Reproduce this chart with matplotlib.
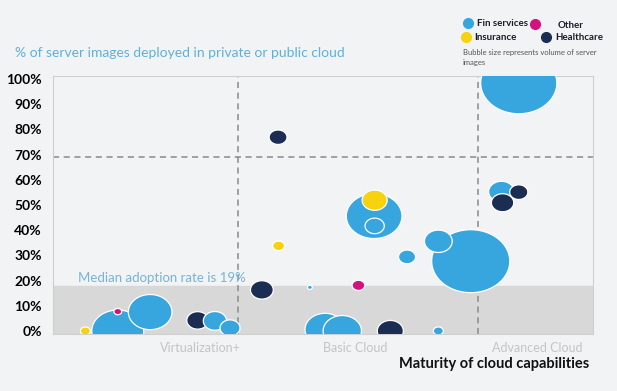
import numpy as np
import matplotlib
matplotlib.use("Agg")
import matplotlib.pyplot as plt
from matplotlib.path import Path

plt.rcParams['font.family'] = ['Lato', 'DejaVu Sans']

# bubbles, listed back to front
sector = ['Fin', 'Fin', 'Fin', 'Fin', 'Fin', 'Fin', 'Insurance', 'Fin',
          'Healthcare', 'Healthcare', 'Healthcare', 'Insurance',
          'Fin', 'Fin', 'Other', 'Insurance', 'Healthcare', 'Fin', 'Fin',
          'Healthcare', 'Fin', 'Other', 'Fin', 'Fin', 'Healthcare', 'Fin']
maturity = [77.4, 71.4, 65.6, 86.3, 59.5, 59.6, 59.6, 83.1,
            86.3, 83.3, 41.7, 41.8,
            12.0, 18.0, 12.0, 6.0, 26.8, 30.0, 32.8,
            38.7, 47.6, 56.6, 50.4, 53.6, 62.5, 71.4]
adoption = [27.7, 35.6, 29.4, 98.4, 45.6, 41.7, 51.9, 55.3,
            55.1, 50.9, 76.9, 33.8,
            0.0, 7.5, 7.7, 0.0, 4.2, 4.0, 1.2,
            16.3, 17.3, 18.1, 0.6, 0.0, 0.0, 0.0]
volume = [61, 7.7, 2.9, 58, 31, 3.7, 6.3, 6.6,
          3.3, 5.0, 3.2, 1.4,
          27, 19, 0.6, 1.0, 4.7, 5.4, 4.0,
          5.2, 0.25, 1.6, 16, 14.7, 6.8, 1.0]

median_rate = 18
cloud_threshold = 69
stage_edges = [34.3, 78.8]
stage_ticks = [27.3, 56.0, 89.7]
stage_labels = ['Virtualization+', 'Basic Cloud', 'Advanced Cloud']

colors = {'Fin': '#38a6de', 'Insurance': '#f6d20f',
          'Other': '#d4127f', 'Healthcare': '#1b2d52'}
legend_names = {'Fin': 'Fin services', 'Insurance': 'Insurance',
                'Other': 'Other', 'Healthcare': 'Healthcare'}

bg = '#f2f3f5'
W, H = 617, 391
fig = plt.figure(figsize=(W / 100, H / 100), dpi=100, facecolor=bg)
ax = fig.add_axes([53 / W, 1 - 334 / H, (592.7 - 53) / W, (334 - 76) / H])
ax.set_facecolor(bg)

# stretched bubble marker (the source chart draws wide ellipses)
t = np.linspace(0, 2 * np.pi, 80)
ellipse = Path(np.column_stack([1.24 * np.cos(t), np.sin(t)]))

ax.axhspan(-5, median_rate, color='#d8d8d8', zorder=0)
ax.axhline(cloud_threshold, color='#8a8a8a', lw=1.1, ls=(0, (4, 3)), zorder=1)
for e in stage_edges:
    ax.axvline(e, color='#8a8a8a', lw=1.1, ls=(0, (4, 3)), zorder=1)

sizes = (7.2 * np.sqrt(np.array(volume))) ** 2
ax.scatter(maturity, adoption, s=sizes, c=[colors[k] for k in sector],
           marker=ellipse, edgecolors='white', linewidths=0.9, zorder=3)

ax.text(4.6, median_rate + 0.8, 'Median adoption rate is 19%', color='#72b6d8',
        fontsize=9.5, va='bottom', ha='left')

ax.set_xlim(0, 100)
ax.set_ylim(-1.2, 101.2)
ax.set_yticks(range(0, 101, 10))
ax.set_yticklabels([f'{v}%' for v in range(0, 101, 10)], fontweight='bold',
                   fontsize=10, color='black')
ax.set_xticks(stage_ticks)
ax.set_xticklabels(stage_labels, color='#c4c4c4', fontsize=9)
ax.tick_params(length=0)
ax.tick_params(axis='x', pad=6)
ax.tick_params(axis='y', pad=8)
for s in ax.spines.values():
    s.set_color('#cfcfcf')
    s.set_linewidth(0.8)

fig.text(589 / W, 1 - 364 / H, 'Maturity of cloud capabilities', ha='right',
         va='center', fontsize=10.5, fontweight='bold', color='#111111')
fig.text(15 / W, 1 - 53 / H, '% of server images deployed in private or public cloud',
         ha='left', va='center', fontsize=10, color='#5fb0d8')

# legend in the top right corner
legend_pos = {'Fin': (468, 23, 477), 'Other': (535, 24, 558),
              'Insurance': (466, 37, 474), 'Healthcare': (546, 37, 555)}
for key, (mx, my, tx) in legend_pos.items():
    fig.add_artist(plt.Line2D([mx / W], [1 - my / H], marker='o', ms=7,
                              color=colors[key], transform=fig.transFigure))
    fig.text(tx / W, 1 - (my + 1) / H, legend_names[key], ha='left', va='center',
             fontsize=7, fontweight='bold', color='#1b1b2b')
fig.text(463 / W, 1 - 52 / H, 'Bubble size represents volume of server',
         fontsize=5.5, color='#555555', va='center')
fig.text(463 / W, 1 - 63 / H, 'images', fontsize=5.5, color='#555555', va='center')

fig.savefig('out.png', dpi=100, facecolor=bg)
